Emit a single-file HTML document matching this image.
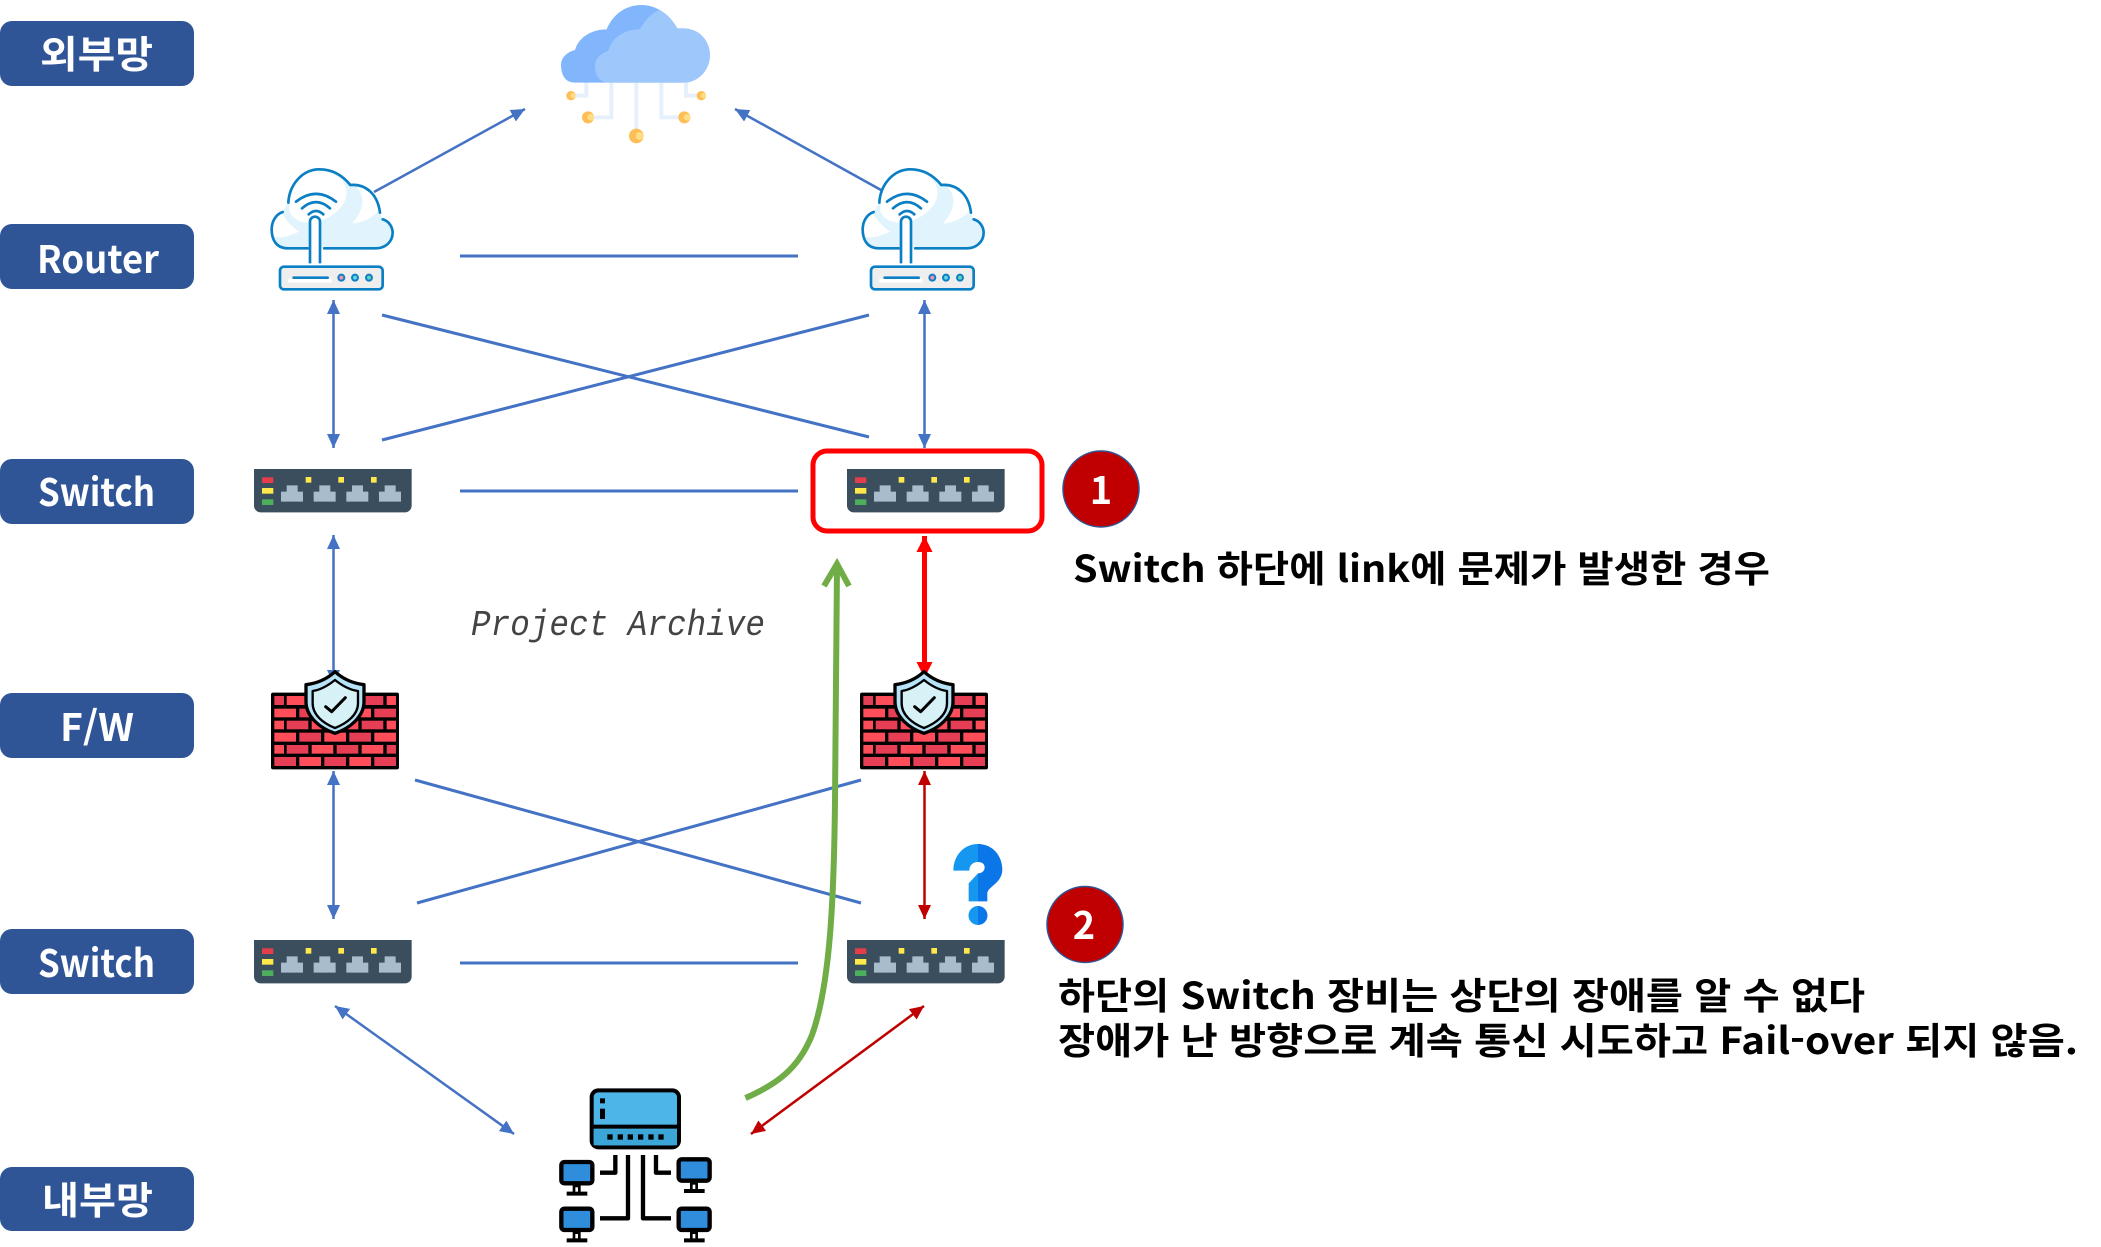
<!DOCTYPE html>
<html lang="ko">
<head>
<meta charset="utf-8">
<title>Network diagram</title>
<style>
html,body{margin:0;padding:0;background:#fff;}
body{width:2101px;height:1247px;overflow:hidden;}
svg{display:block;}
.lab{font-family:"Noto Sans CJK KR","Liberation Sans",sans-serif;font-weight:700;font-size:38px;fill:#fff;}
.note{font-family:"Noto Sans CJK KR","Liberation Sans",sans-serif;font-weight:700;font-size:37px;fill:#000;}
.num{font-family:"Noto Sans CJK KR","Liberation Sans",sans-serif;font-weight:700;font-size:38px;fill:#fff;text-anchor:middle;}
.pa{font-family:"Liberation Mono",monospace;font-style:italic;font-size:36px;fill:#444;}
.b{stroke:#4472c4;fill:none;}
</style>
</head>
<body>
<svg width="2101" height="1247" viewBox="0 0 2101 1247" xmlns="http://www.w3.org/2000/svg">
<defs>
<marker id="ab" markerUnits="userSpaceOnUse" markerWidth="16" markerHeight="14" refX="14" refY="7" orient="auto-start-reverse"><path d="M0,0.5L14,7L0,13.5Z" fill="#4472c4"/></marker>
<marker id="ac" markerUnits="userSpaceOnUse" markerWidth="16" markerHeight="14" refX="14" refY="7" orient="auto-start-reverse"><path d="M0,0.5L14,7L0,13.5Z" fill="#c00000"/></marker>
<marker id="ar" markerUnits="userSpaceOnUse" markerWidth="18" markerHeight="18" refX="16" refY="9" orient="auto-start-reverse"><path d="M0,1L16,9L0,17Z" fill="#ff0000"/></marker>

<g id="router" transform="translate(255,160) scale(.3333)">
 <g transform="translate(3,3)">
 <path d="M155,262H95C60,262 47,235 47,205C47,180 60,160 80,153L97,125C100,70 140,25 190,25C235,25 265,50 283,72C330,68 365,100 372,155L380,175C400,180 410,200 410,215C410,245 385,262 360,262H205Z" fill="#e1f4fd"/>
 <path d="M100,150C100,70 140,30 190,30C240,30 272,60 272,100C268,140 220,178 170,185C135,187 110,175 100,150Z" fill="#fff"/>
 <path d="M288,188C322,150 332,110 300,75C340,85 362,110 368,150C350,170 320,185 288,188Z" fill="#fff"/>
 <path d="M50,225C50,190 60,170 78,155C90,180 110,200 130,212C100,225 75,235 50,225Z" fill="#fff"/>
 <path d="M155,262H95C60,262 47,235 47,205C47,180 60,160 80,153M97,125C100,70 140,25 190,25C235,25 265,50 283,72C330,68 365,100 372,155M380,175C400,180 410,200 410,215C410,245 385,262 360,262H205" fill="none" stroke="#0b7fc4" stroke-width="8" stroke-linecap="round"/>
 <path d="M120,122Q180,75 240,122M138,142Q180,105 222,142M158,160Q180,140 202,160" fill="none" stroke="#0b7fc4" stroke-width="8" stroke-linecap="round"/>
 </g>
 <path d="M165,310V185a15,15 0 0 1 30,0V310" fill="#fff" stroke="#0b7fc4" stroke-width="8"/>
 <rect x="75" y="320" width="308" height="68" rx="12" fill="#eee" stroke="#0b7fc4" stroke-width="8"/>
 <path d="M100,362H230" stroke="#fff" stroke-width="12"/>
 <path d="M116,353H218" stroke="#0b7fc4" stroke-width="8" stroke-linecap="round"/>
 <circle cx="259" cy="353" r="9" fill="#f48fb1" stroke="#0b7fc4" stroke-width="6"/>
 <circle cx="300" cy="353" r="9" fill="#5fd3e0" stroke="#0b7fc4" stroke-width="6"/>
 <circle cx="342" cy="353" r="9" fill="#5fd3c0" stroke="#0b7fc4" stroke-width="6"/>
</g>

<g id="sw" transform="translate(240,460) scale(.3333)">
 <path d="M42,27H515V137a20,20 0 0 1 -20,20H62a20,20 0 0 1 -20,-20Z" fill="#3a4e5d"/>
 <rect x="66" y="52" width="34" height="17" fill="#e33e4a"/>
 <rect x="66" y="84" width="34" height="17" fill="#ffe94a"/>
 <rect x="66" y="118" width="34" height="17" fill="#4caf5c"/>
 <rect x="197" y="51" width="17" height="17" fill="#ffe94a"/>
 <rect x="295" y="51" width="17" height="17" fill="#ffe94a"/>
 <rect x="393" y="51" width="17" height="17" fill="#ffe94a"/>
 <path d="M123,125V95H140V76H173V95H189V125Z" fill="#a9bccb"/>
 <path d="M221,125V95H238V76H271V95H287V125Z" fill="#a9bccb"/>
 <path d="M319,125V95H336V76H369V95H385V125Z" fill="#a9bccb"/>
 <path d="M417,125V95H434V76H467V95H483V125Z" fill="#a9bccb"/>
</g>

<g id="fw" transform="translate(260,660) scale(.3333)">
 <rect x="33" y="98" width="384" height="230" rx="6" fill="#000"/>
 <g fill="#ff4d5a">
  <rect x="43" y="108" width="29" height="27" fill="#e63e55"/><rect x="80" y="108" width="65" height="27"/><rect x="155" y="108" width="65" height="27" fill="#e63e55"/><rect x="230" y="108" width="65" height="27"/><rect x="305" y="108" width="65" height="27" fill="#e63e55"/><rect x="380" y="108" width="28" height="27"/>
  <rect x="43" y="146" width="65" height="26"/><rect x="118" y="146" width="65" height="26" fill="#e63e55"/><rect x="193" y="146" width="65" height="26"/><rect x="268" y="146" width="65" height="26"/><rect x="343" y="146" width="65" height="26" fill="#e63e55"/>
  <rect x="43" y="182" width="29" height="26"/><rect x="80" y="182" width="65" height="26" fill="#e63e55"/><rect x="155" y="182" width="65" height="26"/><rect x="230" y="182" width="65" height="26"/><rect x="305" y="182" width="65" height="26" fill="#e63e55"/><rect x="380" y="182" width="28" height="26"/>
  <rect x="43" y="218" width="65" height="27"/><rect x="118" y="218" width="65" height="27" fill="#e63e55"/><rect x="193" y="218" width="65" height="27"/><rect x="268" y="218" width="65" height="27" fill="#e63e55"/><rect x="343" y="218" width="65" height="27"/>
  <rect x="43" y="255" width="29" height="26"/><rect x="80" y="255" width="65" height="26" fill="#e63e55"/><rect x="155" y="255" width="65" height="26"/><rect x="230" y="255" width="65" height="26" fill="#e63e55"/><rect x="305" y="255" width="65" height="26"/><rect x="380" y="255" width="28" height="26" fill="#e63e55"/>
  <rect x="43" y="291" width="65" height="27" fill="#e63e55"/><rect x="118" y="291" width="65" height="27"/><rect x="193" y="291" width="65" height="27" fill="#e63e55"/><rect x="268" y="291" width="65" height="27"/><rect x="343" y="291" width="65" height="27" fill="#e63e55"/>
 </g>
 <path d="M225,35C250,58 280,70 312,74V125C312,170 270,205 225,220C180,205 138,170 138,125V74C170,70 200,58 225,35Z" fill="#b6e3f7" stroke="#000" stroke-width="10" stroke-linejoin="round"/>
 <path d="M225,60C245,76 270,90 294,93V130C294,165 260,190 225,204C190,190 158,165 158,130V93C180,90 205,76 225,60Z" fill="#d7f2f6" stroke="#000" stroke-width="7" stroke-linejoin="round"/>
 <path d="M197,140L215,155L256,113" fill="none" stroke="#000" stroke-width="9" stroke-linecap="round" stroke-linejoin="round"/>
</g>

<g id="mon">
 <rect x="34" y="246" width="93" height="64" rx="9" fill="#2f8ddb" stroke="#000" stroke-width="13"/>
 <path d="M68,316H92V335H112V347H50V335H68Z" fill="#000"/>
 <path d="M76,322H84V335H76Z" fill="#fff"/>
</g>
</defs>

<rect width="2101" height="1247" fill="#fff"/>

<!-- side labels -->
<rect x="0" y="21" width="194" height="65" rx="12" fill="#2f5597"/>
<rect x="0" y="224" width="194" height="65" rx="12" fill="#2f5597"/>
<rect x="0" y="459" width="194" height="65" rx="12" fill="#2f5597"/>
<rect x="0" y="693" width="194" height="65" rx="12" fill="#2f5597"/>
<rect x="0" y="929" width="194" height="65" rx="12" fill="#2f5597"/>
<rect x="0" y="1167" width="194" height="64" rx="12" fill="#2f5597"/>
<text class="lab" x="40" y="68" textLength="113" lengthAdjust="spacingAndGlyphs">외부망</text>
<text class="lab" x="37" y="273" textLength="122" lengthAdjust="spacingAndGlyphs">Router</text>
<text class="lab" x="38" y="506" textLength="117" lengthAdjust="spacingAndGlyphs">Switch</text>
<text class="lab" x="60" y="741" textLength="74" lengthAdjust="spacingAndGlyphs">F/W</text>
<text class="lab" x="38" y="977" textLength="117" lengthAdjust="spacingAndGlyphs">Switch</text>
<text class="lab" x="42" y="1214" textLength="111" lengthAdjust="spacingAndGlyphs">내부망</text>

<!-- connectors -->
<g class="b" stroke-width="3">
 <path d="M460,256H798"/>
 <path d="M460,491H798"/>
 <path d="M460,963H798"/>
 <path d="M382,315L869,437"/>
 <path d="M382,440L869,315"/>
 <path d="M415,780L861,903"/>
 <path d="M417,903L861,780"/>
</g>
<g class="b" stroke-width="2.5">
 <path d="M374,192L525,109" marker-end="url(#ab)"/>
 <path d="M881,190L735,109" marker-end="url(#ab)"/>
 <path d="M333.5,300V448" marker-start="url(#ab)" marker-end="url(#ab)"/>
 <path d="M924.5,300V448" marker-start="url(#ab)" marker-end="url(#ab)"/>
 <path d="M333.5,535V684" marker-start="url(#ab)" marker-end="url(#ab)"/>
 <path d="M333.5,771V919" marker-start="url(#ab)" marker-end="url(#ab)"/>
 <path d="M335,1006L514,1134" marker-start="url(#ab)" marker-end="url(#ab)"/>
</g>
<path d="M924.5,771V919" stroke="#c00000" stroke-width="2.5" fill="none" marker-start="url(#ac)" marker-end="url(#ac)"/>
<path d="M924,1006L751,1134" stroke="#c00000" stroke-width="2.5" fill="none" marker-start="url(#ac)" marker-end="url(#ac)"/>
<path d="M924.5,536V678" stroke="#ff0000" stroke-width="5" fill="none" marker-start="url(#ar)" marker-end="url(#ar)"/>

<!-- project archive -->
<text class="pa" x="471" y="635" textLength="294" lengthAdjust="spacingAndGlyphs">Project Archive</text>

<!-- green curve -->
<path d="M745.5,1098C775,1085 798,1070 812,1035C830,985 834,900 835,800L837,566" fill="none" stroke="#70ad47" stroke-width="6"/>
<path d="M824,586L837,564L849,586" fill="none" stroke="#70ad47" stroke-width="6"/>

<!-- cloud -->
<g transform="translate(540,0) scale(.3333)">
 <g fill="none" stroke="#e6f0fc" stroke-width="12">
  <path d="M139,245V287H93"/><path d="M214,245V352H144"/><path d="M289,245V408"/><path d="M364,245V352H433"/><path d="M438,245V287H484"/>
 </g>
 <path d="M105,248C70,248 63,215 63,195C63,170 85,155 105,150C115,115 150,88 200,88C220,40 260,15 305,15C350,15 390,45 412,85L430,85C480,85 510,125 510,165C510,210 475,248 430,248Z" fill="#82b6fc"/>
 <path d="M205,248C180,248 165,225 165,200C165,175 185,158 205,153C215,115 250,88 300,88C315,60 335,40 357,30C385,42 400,65 412,85L430,85C480,85 510,125 510,165C510,210 475,248 430,248Z" fill="#9ec8fb"/>
 <circle cx="93" cy="287" r="14" fill="#fdbf55"/><circle cx="99" cy="287" r="8" fill="#ffdc85"/>
 <circle cx="144" cy="352" r="18" fill="#fdbf55"/><circle cx="152" cy="352" r="10" fill="#ffdc85"/>
 <circle cx="289" cy="408" r="22" fill="#fdbf55"/><circle cx="299" cy="408" r="12" fill="#ffdc85"/>
 <circle cx="433" cy="352" r="18" fill="#fdbf55"/><circle cx="441" cy="352" r="10" fill="#ffdc85"/>
 <circle cx="484" cy="287" r="14" fill="#fdbf55"/><circle cx="490" cy="287" r="8" fill="#ffdc85"/>
</g>

<!-- devices -->
<use href="#router"/>
<use href="#router" x="591"/>
<use href="#sw"/>
<use href="#sw" x="593"/>
<use href="#sw" y="471"/>
<use href="#sw" x="593" y="471"/>
<use href="#fw"/>
<use href="#fw" x="589"/>

<!-- red highlight -->
<rect x="813" y="451" width="229" height="80" rx="14" fill="none" stroke="#ff0000" stroke-width="5"/>

<!-- question mark -->
<g transform="translate(940,830) scale(.3333)">
 <path d="M114,42C70,42 40,78 40,122H88C88,106 98,96 114,96V42Z" fill="#1597f0"/>
 <path d="M114,42C160,42 187,80 187,118C187,160 142,170 142,190V214H114V130C126,130 134,122 134,112C134,102 126,96 114,96Z" fill="#0a76e8"/>
 <path d="M114,130L86,160V214H114Z" fill="#1597f0"/>
 <path d="M114,228A28.5,28.5 0 0 0 114,285Z" fill="#1597f0"/>
 <path d="M114,228A28.5,28.5 0 0 1 114,285Z" fill="#0a76e8"/>
</g>

<!-- server -->
<g transform="translate(550,1080) scale(.3333)">
 <rect x="125" y="31" width="262" height="171" rx="20" fill="#4db5e8" stroke="#000" stroke-width="12"/>
 <rect x="131" y="148" width="250" height="48" fill="#3ca5d8"/>
 <rect x="125" y="134" width="262" height="12" fill="#000"/>
 <rect x="150" y="55" width="15" height="15" fill="#000"/>
 <rect x="150" y="86" width="15" height="31" fill="#000"/>
 <g fill="#000"><rect x="172" y="163" width="16" height="16"/><rect x="203" y="163" width="16" height="16"/><rect x="233" y="163" width="16" height="16"/><rect x="264" y="163" width="16" height="16"/><rect x="295" y="163" width="16" height="16"/><rect x="325" y="163" width="16" height="16"/></g>
 <path d="M196,225V278H150M234,225V415H150M279,225V415H363M318,225V278H363" fill="none" stroke="#000" stroke-width="13" stroke-linejoin="round"/>
 <use href="#mon"/>
 <use href="#mon" x="352" y="-8"/>
 <use href="#mon" y="140"/>
 <use href="#mon" x="352" y="140"/>
</g>

<!-- badges -->
<ellipse cx="1101" cy="489" rx="38" ry="38" fill="#c00000" stroke="#2f5597" stroke-width="1.5"/>
<text class="num" x="1101" y="504">1</text>
<ellipse cx="1085" cy="924.5" rx="38" ry="38" fill="#c00000" stroke="#2f5597" stroke-width="1.5"/>
<text class="num" x="1084" y="939">2</text>

<!-- notes -->
<text class="note" x="1073" y="582" textLength="697" lengthAdjust="spacingAndGlyphs">Switch 하단에 link에 문제가 발생한 경우</text>
<text class="note" x="1058" y="1009" textLength="807" lengthAdjust="spacingAndGlyphs">하단의 Switch 장비는 상단의 장애를 알 수 없다</text>
<text class="note" x="1058" y="1054" textLength="1020" lengthAdjust="spacingAndGlyphs">장애가 난 방향으로 계속 통신 시도하고 Fail-over 되지 않음.</text>
</svg>
</body>
</html>
